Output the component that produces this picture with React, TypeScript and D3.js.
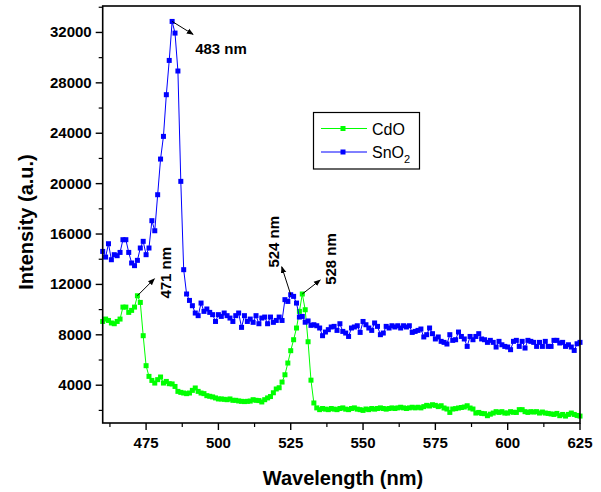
import React from "react";
import * as d3 from "d3";

// Wavelength grid (nm), 1 nm sampling from 460 to 625
const WL_START = 460;
const WL_END = 625;

// CdO intensity (a.u.) at 460..625 nm
const cdoValues: number[] = [
  9060, 9250, 9140, 8940, 8880, 9060, 9250, 10200, 10200, 9780,
  9940, 10200, 11100, 10570, 7930, 5550, 4700, 4380, 4170, 4440,
  4650, 4170, 4300, 4120, 4100, 3900, 3510, 3430, 3380, 3330,
  3380, 3590, 3780, 3510, 3380, 3330, 3170, 3120, 3070, 2990,
  2910, 2910, 2880, 2850, 2910, 2800, 2800, 2750, 2720, 2700,
  2720, 2740, 2850, 2800, 2780, 2670, 2850, 2990, 3100, 3400,
  3700, 3800, 4250, 4830, 5760, 6740, 7610, 8540, 9860, 11240,
  9990, 7450, 4400, 2590, 2200, 2060, 2150, 2100, 2060, 2150,
  2100, 2060, 2150, 2200, 2100, 2060, 2150, 2200, 2100, 2060,
  2000, 2110, 2060, 2150, 2100, 2150, 2200, 2150, 2100, 2150,
  2200, 2150, 2200, 2250, 2200, 2150, 2200, 2250, 2200, 2250,
  2200, 2300, 2400, 2350, 2450, 2400, 2300, 2370, 2190, 2110,
  1840, 2110, 2140, 2190, 2230, 2270, 2370, 2190, 2110, 1790,
  1840, 1760, 1740, 1580, 1700, 1790, 1900, 1840, 1900, 1790,
  1790, 1900, 1850, 1840, 2060, 2060, 1900, 1840, 1900, 1870,
  1900, 1790, 1870, 1790, 1760, 1720, 1680, 1760, 1580, 1680,
  1550, 1680, 1790, 1680, 1600, 1550,
];

// SnO2 intensity (a.u.) at 460..625 nm
const sno2Values: number[] = [
  14620, 14170, 15230, 13960, 14360, 14280, 14540, 15550, 15550, 14540,
  13700, 13490, 13910, 14890, 15420, 14360, 14890, 17060, 16260, 19120,
  21950, 23750, 27060, 29780, 32875, 31950, 28940, 20180, 13170, 11240,
  10730, 10310, 9730, 9520, 10520, 9860, 10050, 9780, 9600, 9060,
  9600, 9460, 9730, 9520, 9330, 9060, 9520, 9730, 8590, 9520,
  9060, 9250, 8990, 9520, 8880, 9330, 9410, 8880, 9410, 8990,
  9140, 9410, 9140, 10790, 10650, 11180, 11050, 10520, 9410, 9460,
  9000, 9100, 8750, 8800, 8720, 8540, 7930, 8220, 8410, 8620,
  8670, 8350, 8880, 8270, 8140, 7870, 8540, 8620, 8720, 8190,
  9060, 8800, 8540, 8350, 8940, 8670, 8010, 8140, 8670, 8540,
  8720, 8620, 8720, 8540, 8720, 8620, 8720, 8190, 8270, 8350,
  8460, 7830, 8010, 8540, 8090, 7670, 7830, 7480, 7400, 7270,
  8010, 7560, 7610, 8220, 7870, 7670, 7080, 7870, 7610, 7870,
  8090, 7670, 7610, 7400, 7560, 7400, 7030, 7480, 7210, 7080,
  7030, 6820, 7480, 7560, 7080, 7480, 6950, 7560, 7480, 7400,
  7080, 7400, 7080, 7480, 7080, 7080, 7560, 7560, 7350, 7400,
  7080, 7210, 7030, 6760, 7290, 7400,
];

const xMajorTicks = [475, 500, 525, 550, 575, 600, 625];
const xMinorTicks = [462.5, 487.5, 512.5, 537.5, 562.5, 587.5, 612.5];
const yMajorTicks = [4000, 8000, 12000, 16000, 20000, 24000, 28000, 32000];
const yMinorTicks = [2000, 6000, 10000, 14000, 18000, 22000, 26000, 30000, 34000];

const seriesNames = ["CdO", "SnO"];
const seriesColors = ["#00ff00", "#0000ff"];

// Peak annotations
const annotations = [
  { label: "483 nm", wl: 484, s: 1, hx: 21, hy: 13, tx: 23, ty: 33, rot: false },
  { label: "471 nm", wl: 472, s: 0, hx: 17, hy: -17, tx: 34, ty: -23, rot: true },
  { label: "524 nm", wl: 525, s: 1, hx: -9, hy: -28, tx: -12, ty: -53, rot: true },
  { label: "528 nm", wl: 529, s: 0, hx: 18, hy: -14, tx: 34, ty: -35, rot: true },
];

const W = 601;
const H = 492;
const L = 102.7;
const R = 580;
const T = 6;
const B = 423;
const FONT = "'Liberation Sans', Arial, sans-serif";

export default function App() {
  const wl = d3.range(WL_START, WL_END + 1);
  const x = d3.scaleLinear().domain([460, 625]).range([L, R]);
  const y = d3.scaleLinear().domain([1000, 34100]).range([B, T]);
  const line = d3
    .line<[number, number]>()
    .x((d) => x(d[0]))
    .y((d) => y(d[1]));
  const data = [cdoValues, sno2Values].map((vals) =>
    vals.map((v, i) => [wl[i], v] as [number, number])
  );
  const ms = 5;

  return (
    <svg
      width={W}
      height={H}
      style={{ position: "absolute", left: 0, top: 0, background: "#fff" }}
      fontFamily={FONT}
    >
      <rect x={0} y={0} width={W} height={H} fill="#fff" />
      <defs>
        <marker id="ah" viewBox="0 0 10 10" refX="9" refY="5" markerWidth="7" markerHeight="7" orient="auto">
          <path d="M0,1 L10,5 L0,9 z" fill="#000" />
        </marker>
      </defs>
      {data.map((pts, si) => (
        <g key={si}>
          <path d={line(pts) || ""} fill="none" stroke={seriesColors[si]} strokeWidth={1} />
          {pts.map((p, i) => (
            <rect
              key={i}
              x={x(p[0]) - ms / 2}
              y={y(p[1]) - ms / 2}
              width={ms}
              height={ms}
              fill={seriesColors[si]}
            />
          ))}
        </g>
      ))}
      <rect x={L} y={T} width={R - L} height={B - T} fill="none" stroke="#000" strokeWidth={1.6} />
      {xMajorTicks.map((t) => (
        <g key={"xm" + t}>
          <line x1={x(t)} x2={x(t)} y1={B} y2={B + 7} stroke="#000" strokeWidth={1.4} />
          <text x={x(t)} y={B + 25} textAnchor="middle" fontSize={15} fontWeight="bold">
            {t}
          </text>
        </g>
      ))}
      {xMinorTicks.map((t) => (
        <line key={"xn" + t} x1={x(t)} x2={x(t)} y1={B} y2={B + 4} stroke="#000" strokeWidth={1.2} />
      ))}
      {yMajorTicks.map((t) => (
        <g key={"ym" + t}>
          <line x1={L - 7} x2={L} y1={y(t)} y2={y(t)} stroke="#000" strokeWidth={1.4} />
          <text x={L - 11} y={y(t) + 5} textAnchor="end" fontSize={15} fontWeight="bold">
            {t}
          </text>
        </g>
      ))}
      {yMinorTicks.map((t) => (
        <line key={"yn" + t} x1={L - 4} x2={L} y1={y(t)} y2={y(t)} stroke="#000" strokeWidth={1.2} />
      ))}
      <text x={343} y={485} textAnchor="middle" fontSize={20} fontWeight="bold">
        Wavelength (nm)
      </text>
      <text
        transform={`translate(33,222) rotate(-90)`}
        textAnchor="middle"
        fontSize={20}
        fontWeight="bold"
      >
        Intensity (a.u.)
      </text>
      {annotations.map((a, i) => {
        const px = x(a.wl);
        const py = y((a.s === 0 ? cdoValues : sno2Values)[a.wl - WL_START]);
        const tx = px + a.tx;
        const ty = py + a.ty;
        return (
          <g key={"an" + i}>
            <line x1={px} y1={py} x2={px + a.hx} y2={py + a.hy} stroke="#000" strokeWidth={1} markerEnd="url(#ah)" />
            <text
              transform={a.rot ? `translate(${tx},${ty}) rotate(-90)` : `translate(${tx},${ty})`}
              textAnchor={a.rot ? "middle" : "start"}
              fontSize={15}
              fontWeight="bold"
            >
              {a.label}
            </text>
          </g>
        );
      })}
      <g>
        <rect x={313.5} y={112.5} width={106} height={56.5} fill="#fff" stroke="#000" strokeWidth={1.2} />
        {seriesNames.map((n, i) => {
          const ly = 128.5 + i * 23.5;
          return (
            <g key={"lg" + i}>
              <line x1={321} x2={367} y1={ly} y2={ly} stroke={seriesColors[i]} strokeWidth={1} />
              <rect x={343 - ms / 2} y={ly - ms / 2} width={ms} height={ms} fill={seriesColors[i]} />
              <text x={372} y={ly + 6} fontSize={16}>
                {n}
                {i === 1 ? (
                  <tspan fontSize={11} dy={5}>
                    2
                  </tspan>
                ) : null}
              </text>
            </g>
          );
        })}
      </g>
    </svg>
  );
}
